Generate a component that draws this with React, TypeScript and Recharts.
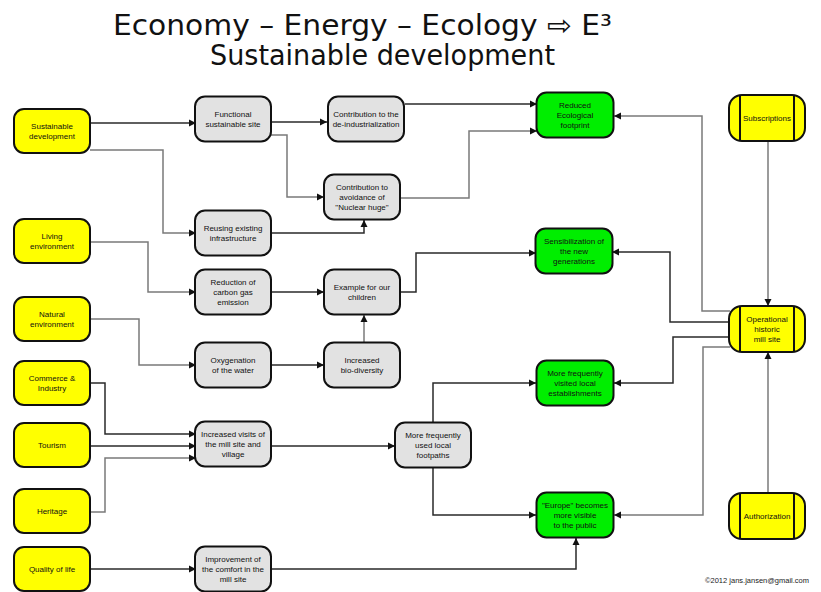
import React from 'react';
import { ComposedChart, Scatter, XAxis, YAxis } from 'recharts';

// ─── Layout data (diagram units = pixels of the 821x592 canvas) ─────────────

type NodeKind = 'input' | 'step' | 'outcome' | 'actor';

interface FlowNode {
  id: string;
  x: number;
  y: number;
  kind: NodeKind;
  lines: string[];
}

const inputNodes: FlowNode[] = [
  { id: 'sd', x: 52, y: 131, kind: 'input', lines: ['Sustainable', 'development'] },
  { id: 'le', x: 52, y: 241, kind: 'input', lines: ['Living', 'environment'] },
  { id: 'ne', x: 52, y: 319, kind: 'input', lines: ['Natural', 'environment'] },
  { id: 'ci', x: 52, y: 383, kind: 'input', lines: ['Commerce &', 'Industry'] },
  { id: 'to', x: 52, y: 445, kind: 'input', lines: ['Tourism'] },
  { id: 'he', x: 52, y: 511, kind: 'input', lines: ['Heritage'] },
  { id: 'ql', x: 52, y: 569, kind: 'input', lines: ['Quality of life'] },
];

const stepNodes: FlowNode[] = [
  { id: 'fs', x: 233, y: 119, kind: 'step', lines: ['Functional', 'sustainable site'] },
  { id: 'ri', x: 233, y: 233, kind: 'step', lines: ['Reusing existing', 'infrastructure'] },
  { id: 'rc', x: 233, y: 292, kind: 'step', lines: ['Reduction of', 'carbon gas', 'emission'] },
  { id: 'ow', x: 233, y: 365, kind: 'step', lines: ['Oxygenation', 'of the water'] },
  { id: 'iv', x: 233, y: 444, kind: 'step', lines: ['Increased visits of', 'the mill site and', 'village'] },
  { id: 'ic', x: 233, y: 569, kind: 'step', lines: ['Improvement of', 'the comfort in the', 'mill site'] },
  { id: 'cd', x: 366, y: 119, kind: 'step', lines: ['Contribution to the', 'de-industrialization'] },
  { id: 'ca', x: 362, y: 197, kind: 'step', lines: ['Contribution to', 'avoidance of', '"Nuclear huge"'] },
  { id: 'ec', x: 362, y: 292, kind: 'step', lines: ['Example for our', 'children'] },
  { id: 'ib', x: 362, y: 365, kind: 'step', lines: ['Increased', 'bio-diversity'] },
  { id: 'fp', x: 433, y: 445, kind: 'step', lines: ['More frequently', 'used local', 'footpaths'] },
];

const outcomeNodes: FlowNode[] = [
  { id: 're', x: 575, y: 115, kind: 'outcome', lines: ['Reduced', 'Ecological', 'footprint'] },
  { id: 'sg', x: 574, y: 251, kind: 'outcome', lines: ['Sensibilization of', 'the new', 'generations'] },
  { id: 've', x: 575, y: 383, kind: 'outcome', lines: ['More frequently', 'visited local', 'establishments'] },
  { id: 'eu', x: 575, y: 515, kind: 'outcome', lines: ['"Europe" becomes', 'more visible', 'to the public'] },
];

const actorNodes: FlowNode[] = [
  { id: 'su', x: 767, y: 118, kind: 'actor', lines: ['Subscriptions'] },
  { id: 'op', x: 767, y: 329, kind: 'actor', lines: ['Operational', 'historic', 'mill site'] },
  { id: 'au', x: 767, y: 516, kind: 'actor', lines: ['Authorization'] },
];

// Connectors as orthogonal waypoint lists; the arrow sits on the last point.
const edges: { id: string; pts: [number, number][] }[] = [
  { id: 'sd-fs', pts: [[90, 123], [196, 123]] },
  { id: 'sd-ri', pts: [[90, 150], [163, 150], [163, 233], [196, 233]] },
  { id: 'fs-cd', pts: [[271, 122], [327, 122]] },
  { id: 'fs-ca', pts: [[271, 135], [287, 135], [287, 197], [324, 197]] },
  { id: 'ri-ca', pts: [[271, 233], [364, 233], [364, 220]] },
  { id: 'cd-re', pts: [[405, 104], [537, 104]] },
  { id: 'ca-re', pts: [[400, 198], [469, 198], [469, 131], [537, 131]] },
  { id: 'op-re', pts: [[730, 311], [702, 311], [702, 116], [614, 116]] },
  { id: 'op-sg', pts: [[730, 322], [670, 322], [670, 252], [612, 252]] },
  { id: 'op-ve', pts: [[730, 337], [673, 337], [673, 383], [614, 383]] },
  { id: 'op-eu', pts: [[730, 347], [703, 347], [703, 515], [614, 515]] },
  { id: 'su-op', pts: [[768, 142], [768, 306]] },
  { id: 'au-op', pts: [[768, 493], [768, 352]] },
  { id: 'ec-sg', pts: [[400, 292], [416, 292], [416, 253], [536, 253]] },
  { id: 'rc-ec', pts: [[271, 292], [324, 292]] },
  { id: 'le-rc', pts: [[90, 242], [148, 242], [148, 292], [196, 292]] },
  { id: 'ne-ow', pts: [[90, 319], [139, 319], [139, 365], [196, 365]] },
  { id: 'ow-ib', pts: [[271, 365], [324, 365]] },
  { id: 'ib-ec', pts: [[364, 343], [364, 315]] },
  { id: 'ci-iv', pts: [[90, 383], [105, 383], [105, 434], [196, 434]] },
  { id: 'to-iv', pts: [[90, 446], [196, 446]] },
  { id: 'he-iv', pts: [[90, 512], [105, 512], [105, 458], [196, 458]] },
  { id: 'iv-fp', pts: [[271, 446], [395, 446]] },
  { id: 'fp-ve', pts: [[433, 422], [433, 383], [536, 383]] },
  { id: 'fp-eu', pts: [[433, 468], [433, 515], [536, 515]] },
  { id: 'ql-ic', pts: [[90, 569], [196, 569]] },
  { id: 'ic-eu', pts: [[271, 569], [576, 569], [576, 538]] },
];

const titleLines = ['Economy \u2013 Energy \u2013 Ecology \u21e8 E\u00b3', 'Sustainable development'];
const footer = '\u00a92012 jans.jansen@gmail.com';

// ─── Styles ─────────────────────────────────────────────────────────────────

const LIGHT_EDGES = new Set([
  'sd-ri', 'fs-ca', 'ca-re', 'op-re', 'op-eu', 'su-op', 'au-op', 'le-rc', 'ne-ow', 'he-iv', 'ib-ec',
]);

const KIND_STYLE: Record<NodeKind, { w: number; h: number; fill: string; r: number }> = {
  input: { w: 76, h: 44, fill: '#ffff00', r: 10 },
  step: { w: 76, h: 45, fill: '#e2e2e2', r: 10 },
  outcome: { w: 77, h: 45, fill: '#00ee00', r: 10 },
  actor: { w: 76, h: 46, fill: '#ffff00', r: 13 },
};

const FONT = '"Liberation Sans", Arial, sans-serif';
const TITLE_FONT = '"DejaVu Sans", Verdana, sans-serif';

// ─── Shapes ─────────────────────────────────────────────────────────────────

function NodeShape(props: any) {
  const { cx, cy } = props;
  const node: FlowNode = props.payload ?? props;
  const s = KIND_STYLE[node.kind];
  const x0 = cx - s.w / 2;
  const y0 = cy - s.h / 2;
  const lh = 10;
  const startY = cy - ((node.lines.length - 1) * lh) / 2 + 3;
  return (
    <g>
      <rect x={x0} y={y0} width={s.w} height={s.h} rx={s.r} ry={s.r} fill={s.fill} stroke="#111" strokeWidth={2} />
      {node.kind === 'actor' && (
        <>
          <line x1={x0 + 11} y1={y0} x2={x0 + 11} y2={y0 + s.h} stroke="#111" strokeWidth={2} />
          <line x1={x0 + s.w - 11} y1={y0} x2={x0 + s.w - 11} y2={y0 + s.h} stroke="#111" strokeWidth={2} />
        </>
      )}
      <text textAnchor="middle" fontFamily={FONT} fontSize={8} fill="#111">
        {node.lines.map((ln, i) => (
          <tspan key={i} x={cx} y={startY + i * lh}>
            {ln}
          </tspan>
        ))}
      </text>
    </g>
  );
}

function ArrowShape(props: any) {
  const { cx, cy } = props;
  const dir: string = (props.payload ?? props).dir;
  const L = 7;
  const W = 3.5;
  let pts = '';
  if (dir === 'r') pts = `${cx},${cy} ${cx - L},${cy - W} ${cx - L},${cy + W}`;
  else if (dir === 'l') pts = `${cx},${cy} ${cx + L},${cy - W} ${cx + L},${cy + W}`;
  else if (dir === 'u') pts = `${cx},${cy} ${cx - W},${cy + L} ${cx + W},${cy + L}`;
  else pts = `${cx},${cy} ${cx - W},${cy - L} ${cx + W},${cy - L}`;
  return <polygon points={pts} fill="#111" />;
}

const Empty = () => <g />;

// ─── Main component ─────────────────────────────────────────────────────────

export default function App() {
  const allNodes = [...inputNodes, ...stepNodes, ...outcomeNodes, ...actorNodes];

  const arrows = edges.map((e) => {
    const [px, py] = e.pts[e.pts.length - 2];
    const [x, y] = e.pts[e.pts.length - 1];
    const dir = x > px ? 'r' : x < px ? 'l' : y < py ? 'u' : 'd';
    return { x, y, dir };
  });

  return (
    <div style={{ position: 'absolute', left: 0, top: 0, width: 821, height: 592, background: '#fff' }}>
      <svg width={821} height={80} style={{ position: 'absolute', left: 0, top: 0 }}>
        <text x={113} y={35} fontFamily={TITLE_FONT} fontSize={28} fill="#111" textLength={499} lengthAdjust="spacingAndGlyphs">
          {titleLines[0]}
        </text>
        <text x={210} y={65} fontFamily={TITLE_FONT} fontSize={28} fill="#111" textLength={345} lengthAdjust="spacingAndGlyphs">
          {titleLines[1]}
        </text>
      </svg>

      <ComposedChart width={821} height={592} margin={{ top: 0, right: 0, bottom: 0, left: 0 }}>
        <XAxis type="number" dataKey="x" domain={[0, 821]} hide allowDataOverflow />
        <YAxis type="number" dataKey="y" domain={[0, 592]} reversed hide allowDataOverflow />

        {edges.map((e) => (
          <Scatter
            key={e.id}
            data={e.pts.map(([x, y]) => ({ x, y }))}
            line={{ stroke: LIGHT_EDGES.has(e.id) ? '#7a7a7a' : '#2a2a2a', strokeWidth: 1.5 }}
            lineType="joint"
            shape={Empty}
            isAnimationActive={false}
          />
        ))}

        <Scatter data={allNodes} shape={NodeShape} isAnimationActive={false} />
        <Scatter data={arrows} shape={ArrowShape} isAnimationActive={false} />
      </ComposedChart>

      <div
        style={{
          position: 'absolute',
          left: 705,
          top: 576,
          fontFamily: FONT,
          fontSize: 7.5,
          color: '#222',
        }}
      >
        {footer}
      </div>
    </div>
  );
}
